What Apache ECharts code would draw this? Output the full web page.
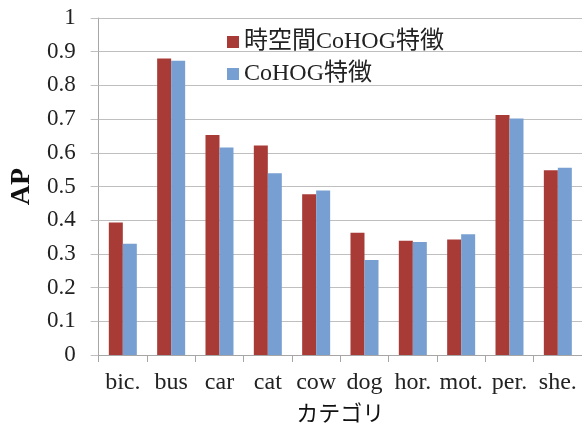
<!DOCTYPE html>
<html><head><meta charset="utf-8">
<script src="https://cdn.jsdelivr.net/npm/echarts@6/dist/echarts.min.js"></script>
<style>html,body{margin:0;padding:0;background:#fff}#c{width:582px;height:434px}</style>
</head><body><div id="c"></div>
<script>
const categories = ['bic.','bus','car','cat','cow','dog','hor.','mot.','per.','she.'];
const seriesNames = ['時空間CoHOG特徴','CoHOG特徴'];
const spatioTemporal = [0.393,0.880,0.653,0.622,0.477,0.363,0.339,0.343,0.712,0.548];
const cohog = [0.330,0.873,0.616,0.539,0.488,0.282,0.335,0.358,0.702,0.556];
const yTicks = [0,0.1,0.2,0.3,0.4,0.5,0.6,0.7,0.8,0.9,1];

const serif = '"Liberation Serif","Noto Sans CJK JP",serif';
const chart = echarts.init(document.getElementById('c'));
chart.setOption({
  animation:false,
  backgroundColor:'#fff',
  grid:{left:95,right:0,top:18,bottom:79,containLabel:false},
  legend:{
    orient:'vertical',left:222,top:25,itemWidth:12,itemHeight:12,itemGap:8,
    icon:'rect',
    textStyle:{fontFamily:serif,fontSize:24,color:'#222'},
    data:seriesNames
  },
  xAxis:{
    type:'category',data:categories,
    name:'カテゴリ',nameLocation:'middle',nameGap:47,
    nameTextStyle:{fontFamily:'"Noto Sans CJK JP",sans-serif',fontSize:22,color:'#111',fontWeight:'normal'},
    axisLine:{lineStyle:{color:'#A6A6A6'}},
    axisTick:{show:true,length:7,lineStyle:{color:'#A6A6A6'}},
    axisLabel:{fontFamily:serif,fontSize:24,color:'#222',margin:16,interval:0}
  },
  yAxis:{
    type:'value',min:0,max:1,interval:0.1,
    name:'AP',nameLocation:'middle',nameGap:57,
    nameTextStyle:{fontFamily:serif,fontSize:28,fontWeight:'bold',color:'#111'},
    axisLine:{show:true,lineStyle:{color:'#A6A6A6'}},
    axisTick:{show:true,length:8,lineStyle:{color:'#BFBFBF'}},
    splitLine:{lineStyle:{color:'#BFBFBF'}},
    axisLabel:{fontFamily:serif,fontSize:23,color:'#222',margin:23,
      formatter:v=>{const t=yTicks.find(x=>Math.abs(x-v)<1e-9);return t===undefined?'':String(t);}}
  },
  series:[
    {name:seriesNames[0],type:'bar',data:spatioTemporal,barWidth:14,barGap:'0%',itemStyle:{color:'#A93B37'}},
    {name:seriesNames[1],type:'bar',data:cohog,barWidth:14,barGap:'0%',itemStyle:{color:'#779FD1'}}
  ]
});
</script></body></html>
